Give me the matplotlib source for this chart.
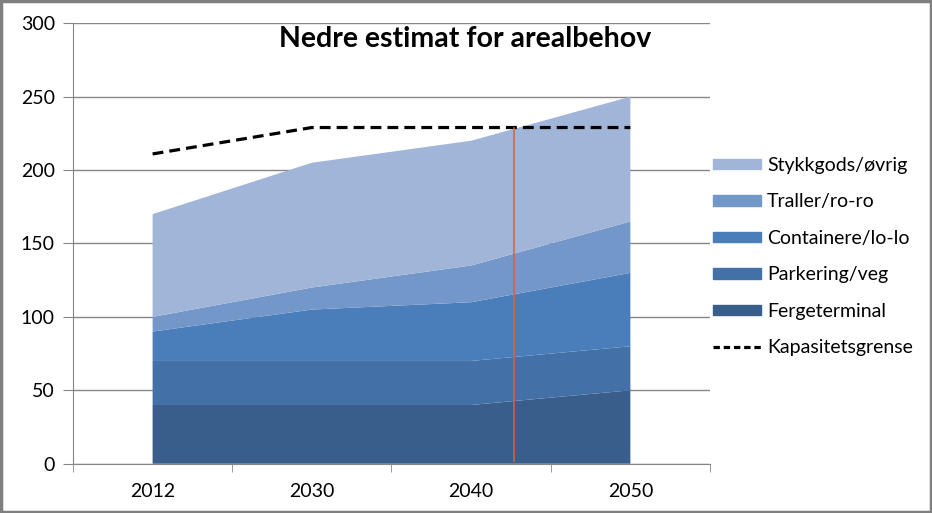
import numpy as np
import matplotlib
import matplotlib.pyplot as plt
from matplotlib.patches import Patch, Rectangle
from matplotlib.lines import Line2D

matplotlib.use("Agg")
plt.rcParams["font.family"] = ["Lato", "DejaVu Sans"]

years = ["2012", "2030", "2040", "2050"]
fergeterminal = [40, 40, 40, 50]
parkering = [30, 30, 30, 30]
containere = [20, 35, 40, 50]
traller = [10, 15, 25, 35]
stykkgods = [70, 85, 85, 85]
kapasitet = [211, 229, 229, 229]

# red marker line drawn in the original (x in category units)
marker_x = [2.27, 2.27]
marker_y = [2, 229]

names = ["Fergeterminal", "Parkering/veg", "Containere/lo-lo",
         "Traller/ro-ro", "Stykkgods/øvrig"]
colors = ["#3a5e8c", "#4470a8", "#4a7ebb", "#7397c9", "#a1b5d8"]

fig = plt.figure(figsize=(9.32, 5.13), dpi=100)
ax = fig.add_axes([0.0783, 0.0961, 0.6835, 0.8585])

x = np.arange(len(years))
ax.stackplot(x, fergeterminal, parkering, containere, traller, stykkgods,
             colors=colors, linewidth=0)
ax.plot(x, kapasitet, color="black", lw=2.3, dashes=(3.4, 1.9))
ax.plot(marker_x, marker_y, color="#e0602e", lw=1.1)

ax.set_xlim(-0.5, 3.5)
ax.set_ylim(0, 300)
ax.set_yticks(np.arange(0, 301, 50))
ax.set_xticks(x)
ax.set_xticklabels(years)
ax.set_xticks(np.arange(-0.5, 3.6, 1), minor=True)
ax.tick_params(axis="x", which="major", length=0, pad=14, labelsize=14)
ax.tick_params(axis="x", which="minor", length=6, color="#868686")
ax.tick_params(axis="y", length=7, color="#868686", pad=6, labelsize=14)
ax.grid(axis="y", color="#868686", lw=1)
ax.set_axisbelow(True)
for s in ["top", "right"]:
    ax.spines[s].set_visible(False)
for s in ["left", "bottom"]:
    ax.spines[s].set_color("#868686")

ax.text(0.615, 0.965, "Nedre estimat for arealbehov", transform=ax.transAxes,
        ha="center", va="center", fontsize=20.5, fontweight="bold")

handles = [Patch(color=c) for c in colors[::-1]]
handles.append(Line2D([0], [0], color="black", lw=2.3, dashes=(2.0, 1.2)))
labels = names[::-1] + ["Kapasitetsgrense"]
fig.legend(handles, labels, loc="upper left", bbox_to_anchor=(0.746, 0.728),
           frameon=False, fontsize=14, handlelength=2.5, handleheight=0.45,
           handletextpad=0.3, labelspacing=1.0)

fig.add_artist(Rectangle((0.0015, 0.0025), 0.997, 0.995, transform=fig.transFigure,
                         fill=False, edgecolor="#7f7f7f", lw=2.5))

plt.savefig("out.png", dpi=100)
